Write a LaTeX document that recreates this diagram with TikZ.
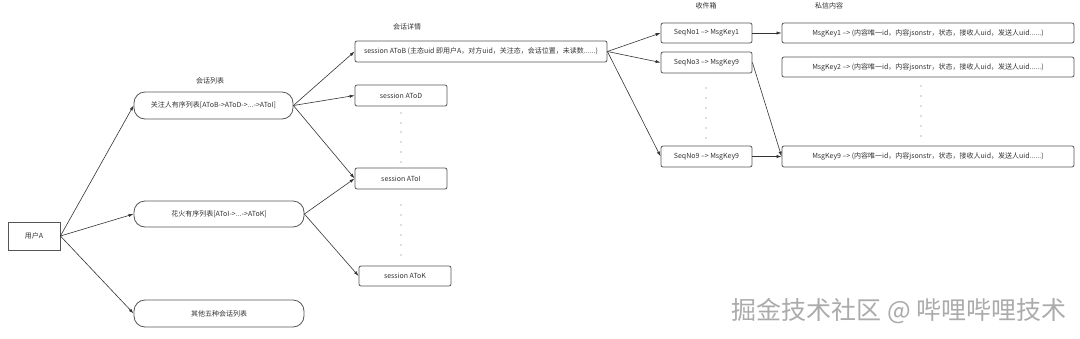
\documentclass[tikz,border=0pt]{standalone}
\usepackage{fontspec}
\setmainfont{Noto Sans CJK SC}
\usetikzlibrary{arrows.meta}
\definecolor{ink}{HTML}{333333}
\definecolor{edge}{HTML}{555555}
\definecolor{wm}{HTML}{ABABAB}
\begin{document}
\begin{tikzpicture}[x=1pt,y=-1pt,
  every node/.style={font=\fontsize{7}{8}\selectfont, text=ink, inner sep=1pt},
  plainbox/.style={draw=edge, line width=0.8pt, minimum height=#1, inner xsep=2pt},
  sessbox/.style={draw=edge, line width=0.8pt, rounded corners=2pt, minimum height=21pt, inner xsep=2pt},
  listbox/.style={draw=edge, line width=0.8pt, rounded corners=11pt, minimum height=27pt, inner xsep=4pt},
  caption/.style={font=\fontsize{7}{8}\selectfont},
  link/.style={draw=ink, line width=0.6pt, -{Latex[length=5pt,width=3.2pt]}},
  dotmark/.style={fill=ink!70}
]
\useasboundingbox (0,0) rectangle (1080,338);

% left part
\node[plainbox=28pt, minimum width=52pt] (userA) at (34,236) {用户A};
\node[listbox, minimum width=159pt] (list1) at (213.5,105.5) {关注人有序列表[AToB->AToD->...->AToI]};
\node[listbox, minimum width=170pt, minimum height=26pt] (list2) at (219,214) {花火有序列表[AToI->...->AToK]};
\node[listbox, minimum width=170pt] (list3) at (219,313.5) {其他五种会话列表};
\node[caption] (capList) at (210,81) {会话列表};

% sessions
\node[caption] (capSess) at (407,27) {会话详情};
\node[sessbox, minimum width=252pt] (AToB) at (481,51.5) {session AToB (主态uid 即用户A，对方uid，关注态，会话位置，未读数......)};
\node[sessbox, minimum width=92pt] (AToD) at (401,95.5) {session AToD};
\node[sessbox, minimum width=92pt] (AToI) at (401,178.5) {session AToI};
\node[sessbox, minimum width=92pt, minimum height=20pt] (AToK) at (405,276) {session AToK};

% inbox
\node[caption] (capInbox) at (706,6) {收件箱};
\node[sessbox, minimum width=91pt, minimum height=20pt] (Seq1) at (706.5,33) {SeqNo1 --> MsgKey1};
\node[sessbox, minimum width=91pt] (Seq3) at (706.5,62.5) {SeqNo3 --> MsgKey9};
\node[sessbox, minimum width=91pt] (Seq9) at (706.5,156.5) {SeqNo9 --> MsgKey9};

% messages
\node[caption] (capMsg) at (829,6) {私信内容};
\node[sessbox, minimum width=292pt, minimum height=20pt] (Msg1) at (928,33) {MsgKey1 --> (内容唯一id，内容jsonstr，状态，接收人uid，发送人uid......)};
\node[sessbox, minimum width=292pt, minimum height=20pt] (Msg2) at (928,67) {MsgKey2 --> (内容唯一id，内容jsonstr，状态，接收人uid，发送人uid......)};
\node[sessbox, minimum width=292pt] (Msg9) at (928,156.5) {MsgKey9 --> (内容唯一id，内容jsonstr，状态，接收人uid，发送人uid......)};

% connectors
\draw[link] (userA.east) -- (list1.west);
\draw[link] (userA.east) -- (list2.west);
\draw[link] (userA.east) -- (list3.west);
\draw[link] (list1.east) -- (AToB.west);
\draw[link] (list1.east) -- (AToD.west);
\draw[link] (list1.east) -- (AToI.west);
\draw[link] (list2.east) -- (AToI.west);
\draw[link] (list2.east) -- (AToK.west);
\draw[link] (AToB.east) -- (Seq1.west);
\draw[link] (AToB.east) -- (Seq3.west);
\draw[link] (AToB.east) -- (Seq9.west);
\draw[link] (Seq1.east) -- (Msg1.west);
\draw[link] (Seq3.east) -- (Msg9.west);
\draw[link] (Seq9.east) -- (Msg9.west);

% vertical dots
\foreach \y in {113,123,132,142,152,162} \fill[dotmark] (401,\y) circle (0.6pt);
\foreach \y in {205,215,225,235,245,255} \fill[dotmark] (401,\y) circle (0.6pt);
\foreach \y in {88,98,108,118,128,138} \fill[dotmark] (706,\y) circle (0.6pt);
\foreach \y in {86,96,106,116,126,136} \fill[dotmark] (921,\y) circle (0.6pt);

% watermark
\node[font=\fontsize{25}{28}\selectfont, text=wm] (wmark) at (899,311) {掘金技术社区 @ 哔哩哔哩技术};
\end{tikzpicture}
\end{document}
